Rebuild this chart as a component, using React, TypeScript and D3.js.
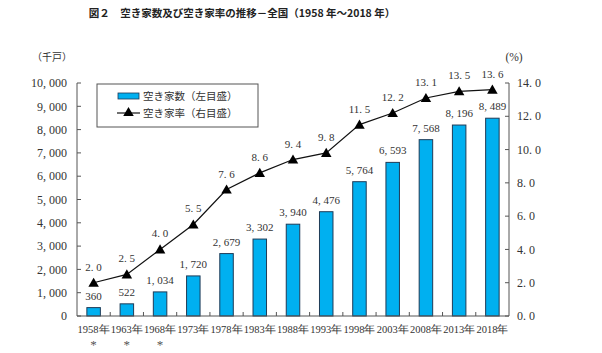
import React from "react"
import * as d3 from "d3"

const years = ["1958", "1963", "1968", "1973", "1978", "1983", "1988", "1993", "1998", "2003", "2008", "2013", "2018"]
const starred = ["1958", "1963", "1968"]
const vacantHouses = [360, 522, 1034, 1720, 2679, 3302, 3940, 4476, 5764, 6593, 7568, 8196, 8489]
const vacancyRate = [2.0, 2.5, 4.0, 5.5, 7.6, 8.6, 9.4, 9.8, 11.5, 12.2, 13.1, 13.5, 13.6]
const leftTicks = [0, 1000, 2000, 3000, 4000, 5000, 6000, 7000, 8000, 9000, 10000]
const rightTicks = [0, 2, 4, 6, 8, 10, 12, 14]

const W = 602
const H = 353
const M = { top: 83, right: 93, bottom: 37, left: 77 }
const TIMES = "Liberation Serif"
const GOTHIC = "Noto Sans CJK JP"

export default function App() {
  const innerW = W - M.left - M.right
  const innerH = H - M.top - M.bottom

  const xOuter = d3.scaleBand<string>().domain(years).range([0, innerW])
  const yL = d3.scaleLinear().domain([0, 10000]).range([innerH, 0])
  const yR = d3.scaleLinear().domain([0, 14]).range([innerH, 0])
  const fmt = d3.format(",")
  const cx = (y: string) => (xOuter(y) ?? 0) + xOuter.bandwidth() / 2
  const barW = 13.5

  const line = d3
    .line<number>()
    .x((_, i) => cx(years[i]))
    .y((d) => yR(d))

  const tri = d3.symbol().type(d3.symbolTriangle).size(48)()

  return (
    <svg width={W} height={H} style={{ position: "absolute", left: 0, top: 0, background: "#fff" }}>
      <text x={242} y={17} textAnchor="middle" fontFamily={GOTHIC} fontSize={10.5} fontWeight={700} fill="#222">
        図２　空き家数及び空き家率の推移－全国（1958 年～2018 年）
      </text>
      <text x={52} y={61} textAnchor="middle" fontFamily={GOTHIC} fontSize={10} fill="#333">（千戸）</text>
      <text x={514} y={61} textAnchor="middle" fontFamily={TIMES} fontSize={11.5} fill="#333">(%)</text>

      <g transform={`translate(${M.left},${M.top})`}>
        {/* bars */}
        {years.map((yr, i) => (
          <rect
            key={yr}
            x={cx(yr) - barW / 2}
            y={yL(vacantHouses[i])}
            width={barW}
            height={innerH - yL(vacantHouses[i])}
            fill="#00b0f0"
            stroke="#1f3b57"
            strokeWidth={1}
          />
        ))}
        {years.map((yr, i) => (
          <text key={yr} x={cx(yr)} y={yL(vacantHouses[i]) - 8} textAnchor="middle" fontFamily={TIMES} fontSize={11} fill="#333">
            {fmt(vacantHouses[i]).replace(",", ", ")}
          </text>
        ))}

        {/* line */}
        <path d={line(vacancyRate) ?? ""} fill="none" stroke="#111" strokeWidth={1.2} />
        {vacancyRate.map((v, i) => (
          <path key={i} d={tri ?? ""} transform={`translate(${cx(years[i])},${yR(v) + 1})`} fill="#000" />
        ))}
        {vacancyRate.map((v, i) => (
          <text key={i} x={cx(years[i])} y={yR(v) - 12} textAnchor="middle" fontFamily={TIMES} fontSize={11} fill="#333">
            {v.toFixed(1).replace(".", ". ")}
          </text>
        ))}

        {/* left axis */}
        <line x1={0} x2={0} y1={0} y2={innerH} stroke="#555" />
        {leftTicks.map((t) => (
          <g key={t} transform={`translate(0,${yL(t)})`}>
            <line x1={0} x2={4} stroke="#555" />
            <text x={-10} dy="0.35em" textAnchor="end" fontFamily={TIMES} fontSize={12} fill="#333">{fmt(t).replace(",", ", ")}</text>
          </g>
        ))}

        {/* right axis */}
        <line x1={innerW} x2={innerW} y1={0} y2={innerH} stroke="#555" />
        {rightTicks.map((t) => (
          <g key={t} transform={`translate(${innerW},${yR(t)})`}>
            <line x1={-4} x2={0} stroke="#555" />
            <text x={8} dy="0.35em" textAnchor="start" fontFamily={TIMES} fontSize={12} fill="#333">{t.toFixed(1).replace(".", ". ")}</text>
          </g>
        ))}

        {/* bottom axis */}
        <line x1={0} x2={innerW} y1={innerH} y2={innerH} stroke="#555" />
        {years.slice(1).map((yr) => (
          <line key={yr} x1={xOuter(yr)} x2={xOuter(yr)} y1={innerH} y2={innerH - 4} stroke="#555" />
        ))}
        {years.map((yr) => (
          <text key={yr} x={cx(yr)} y={innerH + 17} textAnchor="middle" fontFamily={TIMES} fontSize={10.5} fill="#333">
            {yr}年
          </text>
        ))}
        {starred.map((yr) => (
          <text key={yr} x={cx(yr)} y={innerH + 33} textAnchor="middle" fontFamily={TIMES} fontSize={13} fill="#555">*</text>
        ))}
      </g>

      {/* legend */}
      <g>
        <rect x={97} y={84} width={161} height={43} fill="#fff" stroke="#555" />
        <rect x={118} y={93} width={21} height={6} fill="#00b0f0" stroke="#1f3b57" strokeWidth={0.8} />
        <text x={143} y={100} fontFamily={GOTHIC} fontSize={10.5} fill="#333">空き家数（左目盛）</text>
        <line x1={117} x2={140} y1={113} y2={113} stroke="#111" strokeWidth={1.2} />
        <path d={tri ?? ""} transform="translate(128.5,113)" fill="#000" />
        <text x={143} y={117} fontFamily={GOTHIC} fontSize={10.5} fill="#333">空き家率（右目盛）</text>
      </g>
    </svg>
  )
}
